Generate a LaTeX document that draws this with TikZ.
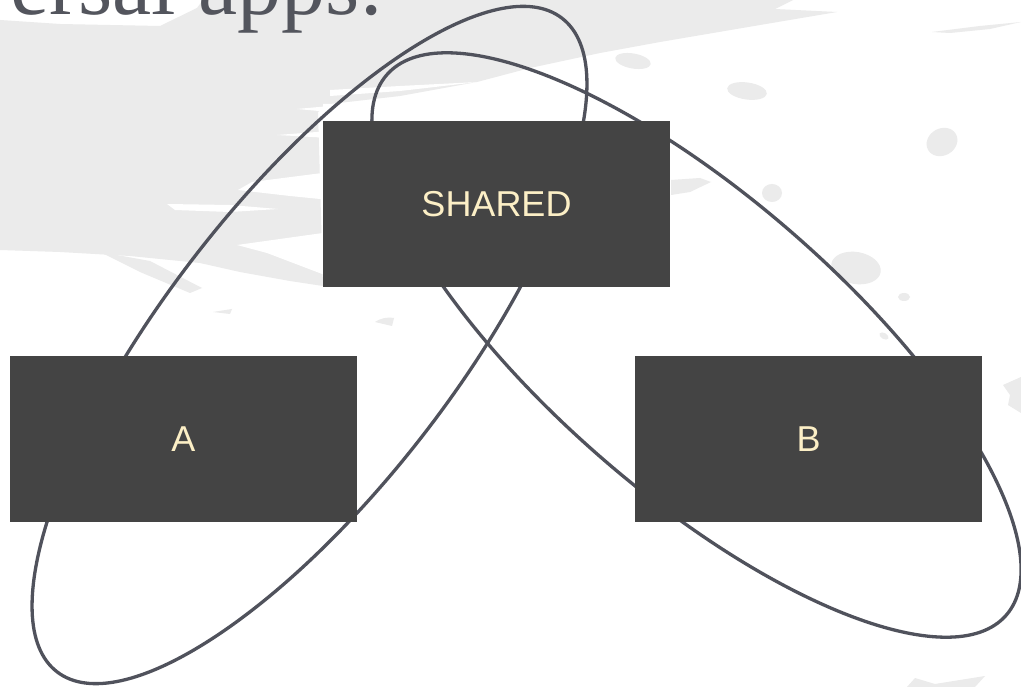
\documentclass[tikz,border=0pt]{standalone}
\usepackage{fontspec}
\newfontfamily\boxfont{Liberation Sans}
\newfontfamily\titlefont{Liberation Serif}
\definecolor{boxgray}{HTML}{444444}
\definecolor{cream}{HTML}{FCEFC6}
\definecolor{linegray}{HTML}{50525C}
\definecolor{brush}{HTML}{EBEBEB}
\definecolor{titlegray}{HTML}{53555D}
\begin{document}
\begin{tikzpicture}[x=1pt,y=-1pt,
  appbox/.style={fill=boxgray, minimum width=347pt, minimum height=166pt, inner sep=0pt,
    text=cream, font=\boxfont\fontsize{36}{40}\selectfont},
  loopline/.style={draw=linegray, line width=3.3pt},
  brushfill/.style={fill=brush},
  gapfill/.style={fill=white}]
\clip (0,0) rectangle (1021,687);
\fill[white] (0,0) rectangle (1021,687);
% main brush stroke
\fill[brushfill] (0,20) -- (60,24) -- (160,26) -- (197,8) -- (203,0) -- (793,0) -- (775,9)
  -- (837,12) -- (760,25) -- (660,42) -- (600,53) -- (530,68) -- (477,82) -- (400,96)
  -- (330,104) -- (318,112) -- (323,286) -- (290,281) -- (240,272) -- (200,263)
  -- (130,256) -- (60,252) -- (0,250) -- cycle;
% white gaps inside the stroke
\fill[gapfill] (330,90) -- (400,86) -- (478,82) -- (400,91) -- (330,96) -- cycle;
\fill[gapfill] (323,104) -- (410,103) -- (323,110) -- cycle;
\fill[gapfill] (297,109) -- (330,106) -- (330,112) -- cycle;
\fill[gapfill] (277,135) -- (330,131) -- (330,138) -- cycle;
\fill[gapfill] (167,204) -- (230,205) -- (278,209) -- (230,212) -- (175,210) -- cycle;
\fill[gapfill] (238,190) -- (252,182) -- (330,172) -- (330,200) -- (290,196) -- cycle;
\fill[gapfill] (237,245) -- (330,232) -- (330,277) -- (267,253) -- cycle;
% loose streaks and drops
\fill[brushfill] (100,252) -- (150,261) -- (202,288) -- (190,293) -- (140,272) -- cycle;
\fill[brushfill] (213,312) -- (232,309) -- (230,314) -- cycle;
\fill[brushfill] (375,322) to[bend left=20] (394,318) -- (392,326) -- cycle;
\fill[brushfill] (671,180) -- (700,178) -- (711,182) -- (690,192) -- (671,195) -- cycle;
\fill[brushfill] (932,32) -- (980,26) -- (1021,22) -- (990,29) -- (950,33) -- cycle;
\fill[brushfill] (633,61) ellipse [x radius=18pt, y radius=7.5pt, rotate=-10];
\fill[brushfill] (747,91) ellipse [x radius=20pt, y radius=8.5pt, rotate=-8];
\fill[brushfill] (942,142) ellipse [x radius=16pt, y radius=13.5pt, rotate=30];
\fill[brushfill] (772,193) ellipse [x radius=10pt, y radius=9pt];
\fill[brushfill] (856,268) ellipse [x radius=25pt, y radius=16pt, rotate=-10];
\fill[brushfill] (904,297) ellipse [x radius=6pt, y radius=4pt];
\fill[brushfill] (884,336) ellipse [x radius=5pt, y radius=3pt, rotate=-30];
\fill[brushfill] (1003,385) -- (1021,377) -- (1021,413) -- (1008,405) -- (1010,395) -- cycle;
\fill[brushfill] (907,687) -- (915,678) -- (935,684) -- (960,680) -- (985,676) -- (975,687) -- cycle;
% title fragment
\node[anchor=base west, inner sep=0pt, text=titlegray,
  font=\titlefont\fontsize{88}{92}\selectfont] (title) at (10,15) {ersal apps:};
% loops
\coordinate (e1) at (309.5,345);
\coordinate (e2) at (696.5,345);
\draw[loopline] (e1) ellipse [x radius=413pt, y radius=145pt, rotate=52.3];
\draw[loopline] (e2) ellipse [x radius=411pt, y radius=147.5pt, rotate=-41.1];
% boxes
\node[appbox] (shared) at (496.5,204) {\raisebox{-1.5pt}{SHARED}};
\node[appbox] (a) at (183.5,439) {A};
\node[appbox] (b) at (808.5,439) {B};
\end{tikzpicture}
\end{document}
